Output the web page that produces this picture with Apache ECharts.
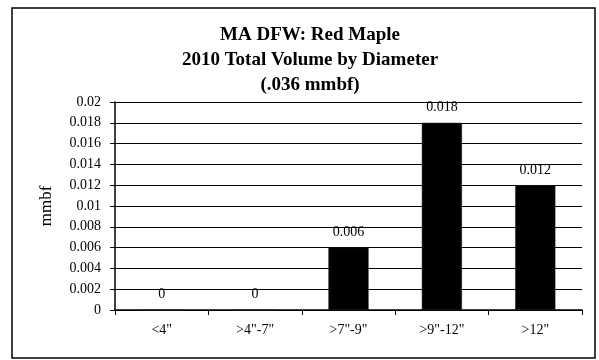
<!DOCTYPE html>
<html>
<head>
<meta charset="utf-8">
<script src="https://cdn.jsdelivr.net/npm/echarts@6/dist/echarts.min.js"></script>
<style>
  html, body { margin: 0; padding: 0; background: #fff; }
  #chart { width: 599px; height: 360px; }
</style>
</head>
<body>
<div id="chart"></div>
<script>
var categories = ['<4"', '>4"-7"', '>7"-9"', '>9"-12"', '>12"'];
var volumes = [0, 0, 0.006, 0.018, 0.012];
var titleLines = ['MA DFW: Red Maple', '2010 Total Volume by Diameter', '(.036 mmbf)'];

var serif = '"Liberation Serif", "Times New Roman", serif';
var chart = echarts.init(document.getElementById('chart'));

var option = {
  animation: false,
  backgroundColor: '#fff',
  title: {
    text: titleLines.join('\n'),
    left: 305,
    top: 18,
    textAlign: 'center',
    textStyle: {
      fontFamily: serif,
      fontWeight: 'bold',
      fontSize: 19,
      lineHeight: 25,
      color: '#000'
    }
  },
  graphic: [{
    type: 'rect',
    shape: { x: 12, y: 8, width: 583, height: 350 },
    style: { fill: 'none', stroke: '#000', lineWidth: 1.5 },
    silent: true
  }],
  grid: { left: 115, right: 17, top: 102, bottom: 50 },
  xAxis: {
    type: 'category',
    data: categories,
    axisLine: { lineStyle: { color: '#000', width: 1.5 } },
    axisTick: { show: true, length: 5, lineStyle: { color: '#000' } },
    axisLabel: { fontFamily: serif, fontSize: 14, color: '#000', margin: 13 }
  },
  yAxis: {
    type: 'value',
    min: 0,
    max: 0.02,
    interval: 0.002,
    name: 'mmbf',
    nameLocation: 'middle',
    nameGap: 60,
    nameTextStyle: { fontFamily: serif, fontSize: 17, color: '#000' },
    axisLine: { show: true, lineStyle: { color: '#000', width: 1.5 } },
    axisTick: { show: true, length: 5, lineStyle: { color: '#000' } },
    axisLabel: {
      fontFamily: serif, fontSize: 14, color: '#000', margin: 14,
      formatter: function (v) { return String(+v.toFixed(3)); }
    },
    splitLine: { lineStyle: { color: '#000', width: 1 } }
  },
  series: [{
    type: 'bar',
    data: volumes,
    barWidth: '43%',
    itemStyle: { color: '#000', borderColor: '#222', borderWidth: 0.5 },
    label: {
      show: true,
      position: 'top',
      distance: 8,
      fontFamily: serif,
      fontSize: 14,
      color: '#000',
      formatter: function (p) { return String(p.value); }
    }
  }]
};

chart.setOption(option);
</script>
</body>
</html>
